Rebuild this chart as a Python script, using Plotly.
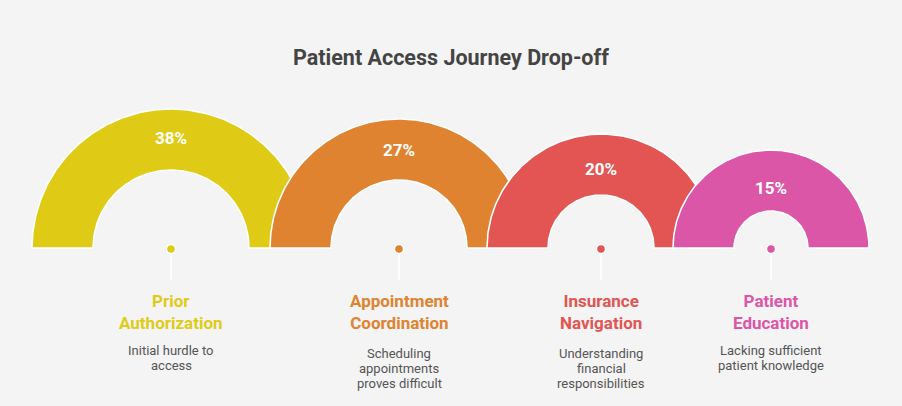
import numpy as np
import plotly.graph_objects as go

# ---- data ----
stages = ["Prior<br>Authorization", "Appointment<br>Coordination", "Insurance<br>Navigation", "Patient<br>Education"]
dropoff_pct = [38, 27, 20, 15]
descriptions = [
    "Initial hurdle to<br>access",
    "Scheduling<br>appointments<br>proves difficult",
    "Understanding<br>financial<br>responsibilities",
    "Lacking sufficient<br>patient knowledge",
]
title_text = "Patient Access Journey Drop-off"

# ---- styles / layout constants ----
colors = ["#DFCB16", "#DF8330", "#E35552", "#DC56A8"]
centers_x = [171, 399, 601, 771]
outer_r = [139, 129, 114, 98]
band = 61
base_y = 248
pct_label_y = [137.5, 150, 168.5, 187.5]
desc_first_y = [350, 353, 353, 350]
desc_line_gap = 15.2
BG = "#F4F4F4"
FONT = "Roboto"

fig = go.Figure()

theta = np.linspace(np.pi, 0, 181)
for i, v in enumerate(dropoff_pct):
    cx = centers_x[i]
    R = outer_r[i]
    r = R - band
    xs = np.concatenate([cx + R * np.cos(theta), cx + r * np.cos(theta[::-1])])
    ys = np.concatenate([base_y - R * np.sin(theta), base_y - r * np.sin(theta[::-1])])
    xs = np.append(xs, xs[0])
    ys = np.append(ys, ys[0])
    fig.add_trace(go.Scatter(
        x=xs, y=ys, mode="lines", fill="toself", fillcolor=colors[i],
        line=dict(color="white", width=1.6), hoverinfo="skip", showlegend=False,
    ))
    fig.add_annotation(
        x=cx, y=pct_label_y[i], xref="x", yref="y", text=f"<b>{v}%</b>",
        showarrow=False, font=dict(family=FONT, size=17, color="white"),
        xanchor="center", yanchor="middle",
    )

# connectors and dots
for i in range(len(dropoff_pct)):
    cx = centers_x[i]
    fig.add_trace(go.Scatter(
        x=[cx, cx], y=[base_y + 1, 280], mode="lines",
        line=dict(color="white", width=1.6), hoverinfo="skip", showlegend=False,
    ))
fig.add_trace(go.Scatter(
    x=centers_x, y=[base_y + 1] * len(centers_x), mode="markers",
    marker=dict(size=9, color=colors, line=dict(color="white", width=1.5)),
    hoverinfo="skip", showlegend=False,
))

for i, name in enumerate(stages):
    cx = centers_x[i]
    fig.add_annotation(
        x=cx, y=311.5, xref="x", yref="y", text=f"<b>{name}</b>",
        showarrow=False, font=dict(family=FONT, size=17, color=colors[i]),
        xanchor="center", yanchor="middle", align="center",
    )
    for j, line in enumerate(descriptions[i].split("<br>")):
        fig.add_annotation(
            x=cx, y=desc_first_y[i] + j * desc_line_gap, xref="x", yref="y", text=line,
            showarrow=False, font=dict(family=FONT, size=13, color="#555555"),
            xanchor="center", yanchor="middle", align="center",
        )

fig.add_annotation(
    x=451, y=57, xref="x", yref="y", text=f"<b>{title_text}</b>",
    showarrow=False, font=dict(family=FONT, size=21.5, color="#444444"),
    xanchor="center", yanchor="middle",
)

fig.update_layout(
    width=902, height=406,
    margin=dict(l=0, r=0, t=0, b=0),
    paper_bgcolor=BG, plot_bgcolor=BG,
    xaxis=dict(range=[0, 902], visible=False, fixedrange=True),
    yaxis=dict(range=[406, 0], visible=False, fixedrange=True),
    showlegend=False,
)

fig.write_html(
    "out.html",
    config={"displayModeBar": False},
    post_script="document.body.style.margin='0';document.body.style.overflow='hidden';",
)
